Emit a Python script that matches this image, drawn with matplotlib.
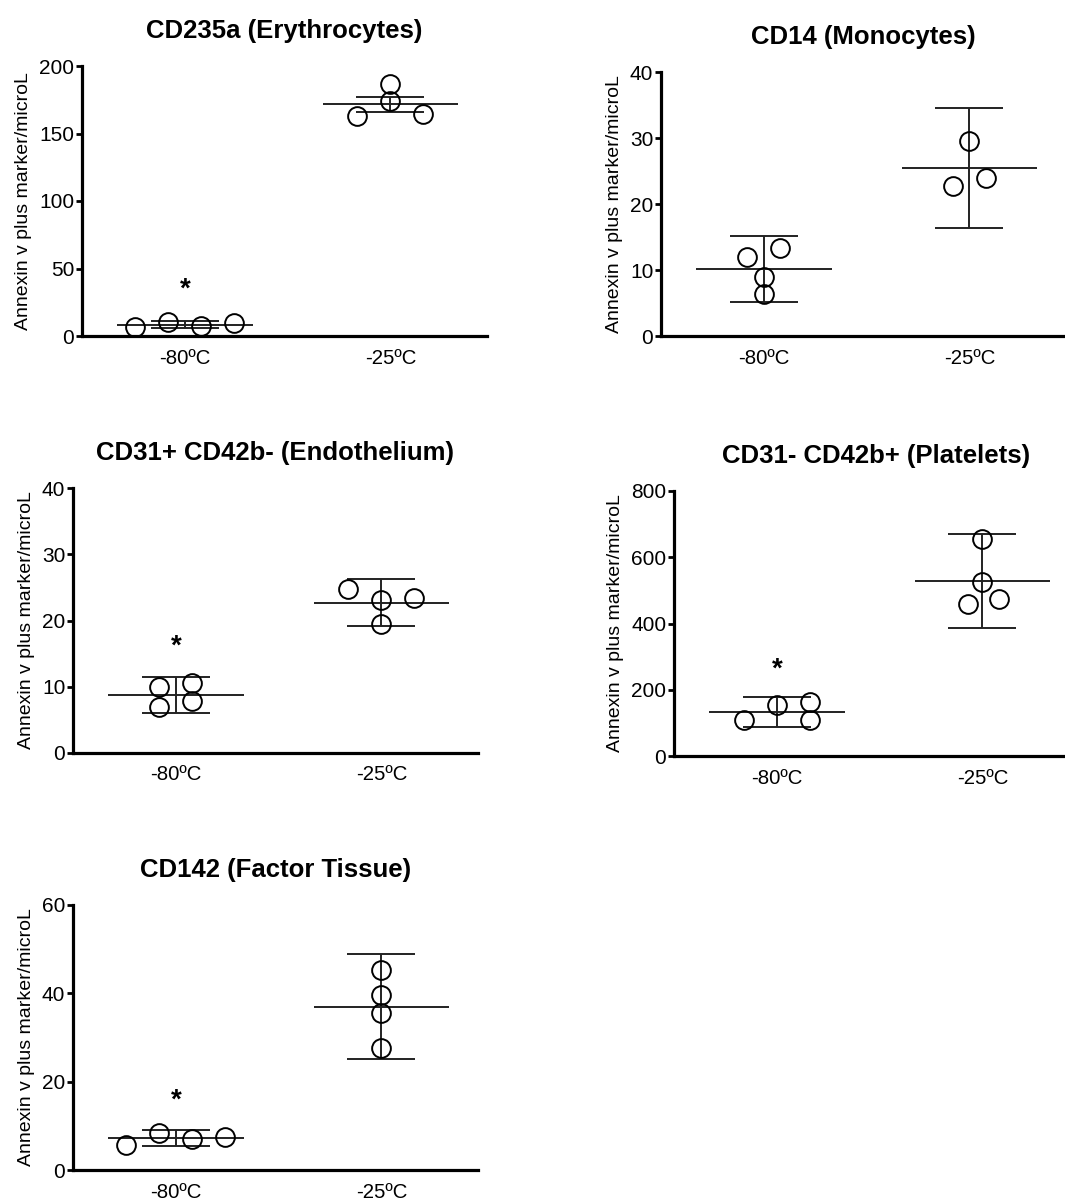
import matplotlib
matplotlib.use('Agg')
import matplotlib.pyplot as plt
import numpy as np

plt.rcParams['font.family'] = ['Liberation Sans', 'DejaVu Sans']

# panel titles and groups
titles = ['CD235a (Erythrocytes)', 'CD14 (Monocytes)', 'CD31+ CD42b- (Endothelium)',
          'CD31- CD42b+ (Platelets)', 'CD142 (Factor Tissue)']
groups = ['-80ºC', '-25ºC']
ylabel = 'Annexin v plus marker/microL'

# individual values, -80ºC group
vals_80 = [[6.9, 10.6, 7.4, 9.9],
           [12.0, 13.3, 8.9, 6.3],
           [9.9, 10.5, 7.0, 7.8],
           [108.7, 154, 162, 108.7],
           [5.7, 8.3, 7.0, 7.5]]
# individual values, -25ºC group
vals_25 = [[186.4, 174.1, 163.2, 164.2],
           [29.6, 22.7, 24.0],
           [24.8, 23.1, 23.35, 19.5],
           [655, 524, 459, 474],
           [45.3, 39.6, 35.5, 27.6]]

# mean and error bar ends (low, high) per group
mean_80 = [8.1, 10.15, 8.75, 133.8, 7.2]
low_80 = [5.7, 5.1, 6.1, 88.6, 5.4]
high_80 = [11.3, 15.15, 11.4, 179, 9.06]
mean_25 = [171.9, 25.5, 22.7, 528, 36.9]
low_25 = [166.2, 16.3, 19.1, 387, 25.1]
high_25 = [177.3, 34.6, 26.3, 670, 48.8]

# significance star height (None = no star)
star_y = [34, None, 16, 260, 15.7]

# y axis ranges
ymax = [200, 40, 40, 800, 60]
ystep = [50, 10, 10, 200, 20]

# horizontal scatter of the points (category units)
jit_80 = [[-0.24, -0.08, 0.08, 0.24],
          [-0.08, 0.08, 0, 0],
          [-0.08, 0.08, -0.08, 0.08],
          [-0.16, 0, 0.16, 0.16],
          [-0.24, -0.08, 0.08, 0.24]]
jit_25 = [[0, 0, -0.16, 0.16],
          [0, -0.08, 0.08],
          [-0.16, 0, 0.16, 0],
          [0, 0, -0.07, 0.08],
          [0, 0, 0, 0]]

W, H = 1065, 1200
fig = plt.figure(figsize=(W / 100, H / 100), dpi=100)

# axes boxes in pixels: left, top (ylim max), bottom (0)
boxes = [(82, 66, 336), (661, 72, 336), (73, 488, 753), (674, 491, 756), (73, 905, 1170)]
axw = 405

line_col = '#222222'
for i, (l, t, b) in enumerate(boxes):
    ax = fig.add_axes([l / W, (H - b) / H, axw / W, (b - t) / H])
    for s in ['top', 'right']:
        ax.spines[s].set_visible(False)
    for s in ['left', 'bottom']:
        ax.spines[s].set_linewidth(2.3)
    ax.set_xlim(-0.5, 1.47)
    ax.set_ylim(0, ymax[i])
    ax.set_yticks(np.arange(0, ymax[i] + 1, ystep[i]))
    ax.set_xticks([0, 1])
    ax.set_xticklabels(groups)
    ax.tick_params(axis='x', length=0, pad=9, labelsize=14.7)
    ax.tick_params(axis='y', length=4, width=2, pad=1.5, labelsize=15)
    ax.set_ylabel(ylabel, fontsize=14, labelpad=5)
    ax.set_title(titles[i], fontsize=18.5, fontweight='bold', pad=20)

    for x0, vals, jit, m, lo, hi in [(0, vals_80[i], jit_80[i], mean_80[i], low_80[i], high_80[i]),
                                     (1, vals_25[i], jit_25[i], mean_25[i], low_25[i], high_25[i])]:
        ax.hlines(m, x0 - 0.33, x0 + 0.33, color=line_col, lw=1.4, zorder=2)
        ax.hlines([lo, hi], x0 - 0.165, x0 + 0.165, color=line_col, lw=1.4, zorder=2)
        ax.vlines(x0, lo, hi, color=line_col, lw=1.4, zorder=2)
        ax.plot(x0 + np.array(jit), vals, 'o', ms=13.5, mfc='none', mec='black',
                mew=1.4, clip_on=False, zorder=3)

    if star_y[i] is not None:
        ax.text(0, star_y[i], '*', ha='center', va='center', fontsize=20, fontweight='bold')

fig.savefig('out.png', dpi=100)
